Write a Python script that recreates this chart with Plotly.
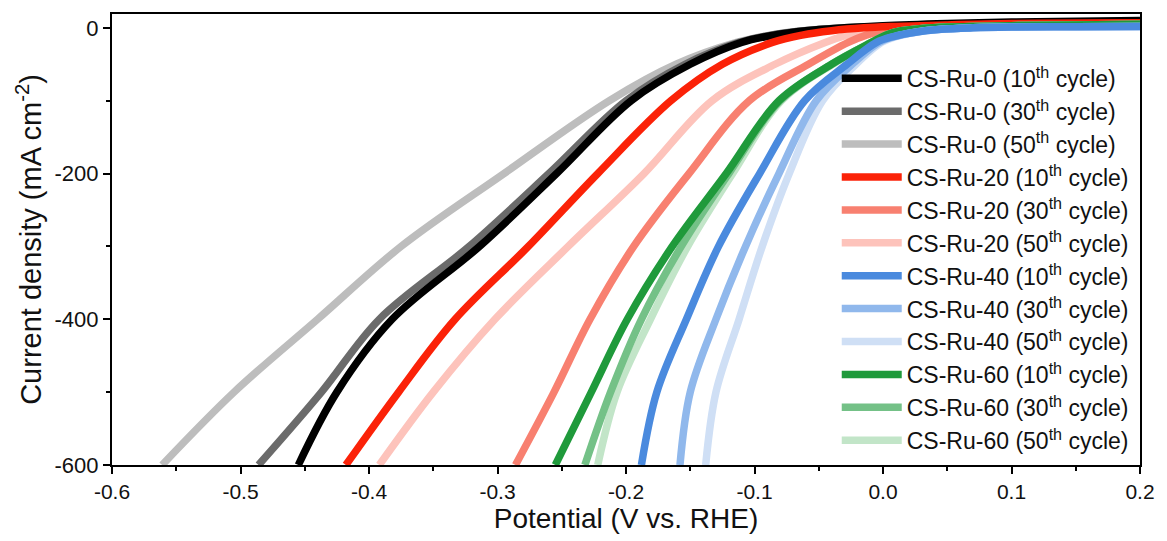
import plotly.graph_objects as go

# ---- data ----
names = [
    "CS-Ru-0 (10<sup>th</sup> cycle)", "CS-Ru-0 (30<sup>th</sup> cycle)", "CS-Ru-0 (50<sup>th</sup> cycle)",
    "CS-Ru-20 (10<sup>th</sup> cycle)", "CS-Ru-20 (30<sup>th</sup> cycle)", "CS-Ru-20 (50<sup>th</sup> cycle)",
    "CS-Ru-40 (10<sup>th</sup> cycle)", "CS-Ru-40 (30<sup>th</sup> cycle)", "CS-Ru-40 (50<sup>th</sup> cycle)",
    "CS-Ru-60 (10<sup>th</sup> cycle)", "CS-Ru-60 (30<sup>th</sup> cycle)", "CS-Ru-60 (50<sup>th</sup> cycle)",
]
colors = ["#000000", "#6b6b6b", "#bdbdbd",
          "#fb2208", "#f88070", "#fdc3bb",
          "#4a8ade", "#90b8ec", "#cfdff5",
          "#1f9a3b", "#74c187", "#c2e5c8"]

ru0_10_x = [-0.455, -0.425, -0.382, -0.314, -0.254, -0.196, -0.150, -0.110, -0.085, -0.060, -0.030, 0.0, 0.05, 0.1, 0.2]
ru0_10_y = [-600, -500, -400, -300, -200, -100, -50, -20, -10, -4, 0, 3, 6, 8, 10]
ru0_30_x = [-0.486, -0.437, -0.392, -0.322, -0.260, -0.200, -0.154, -0.112, -0.087, -0.061, -0.030, 0.0, 0.05, 0.1, 0.2]
ru0_30_y = [-600, -500, -400, -300, -200, -100, -50, -20, -10, -4, 0, 2, 5, 7, 9]
ru0_50_x = [-0.561, -0.505, -0.440, -0.375, -0.295, -0.213, -0.161, -0.114, -0.088, -0.062, -0.030, 0.0, 0.05, 0.1, 0.2]
ru0_50_y = [-600, -500, -400, -300, -200, -100, -50, -20, -10, -4, 0, 2, 4, 6, 8]

ru20_10_x = [-0.418, -0.377, -0.333, -0.276, -0.222, -0.165, -0.125, -0.086, -0.063, -0.040, -0.015, 0.01, 0.05, 0.1, 0.2]
ru20_10_y = [-600, -500, -400, -300, -200, -100, -50, -20, -10, -4, 0, 2, 4, 6, 7]
ru20_30_x = [-0.286, -0.256, -0.228, -0.194, -0.151, -0.104, -0.058, -0.027, -0.013, 0.000, 0.015, 0.03, 0.06, 0.1, 0.2]
ru20_30_y = [-600, -500, -400, -300, -200, -100, -50, -20, -10, -4, -1, 1, 3, 5, 6]
ru20_50_x = [-0.392, -0.350, -0.302, -0.245, -0.186, -0.133, -0.084, -0.045, -0.028, -0.012, 0.005, 0.02, 0.05, 0.1, 0.2]
ru20_50_y = [-600, -500, -400, -300, -200, -100, -50, -20, -10, -4, -1, 1, 3, 5, 6]

ru40_10_x = [-0.188, -0.176, -0.153, -0.128, -0.096, -0.061, -0.028, -0.005, 0.008, 0.025, 0.045, 0.07, 0.1, 0.15, 0.2]
ru40_10_y = [-600, -500, -400, -300, -200, -100, -50, -20, -12, -6, -2, 0, 1, 1.5, 2]
ru40_30_x = [-0.158, -0.150, -0.130, -0.107, -0.081, -0.052, -0.024, -0.003, 0.009, 0.025, 0.045, 0.07, 0.1, 0.15, 0.2]
ru40_30_y = [-600, -500, -400, -300, -200, -100, -50, -20, -12, -6, -2, 0, 1, 1.5, 2]
ru40_50_x = [-0.138, -0.130, -0.112, -0.094, -0.073, -0.047, -0.021, -0.001, 0.010, 0.026, 0.046, 0.07, 0.1, 0.15, 0.2]
ru40_50_y = [-600, -500, -400, -300, -200, -100, -50, -20, -12, -6, -2, 0, 1, 1.5, 2]

ru60_10_x = [-0.255, -0.227, -0.199, -0.164, -0.122, -0.081, -0.040, -0.009, 0.002, 0.014, 0.030, 0.05, 0.1, 0.15, 0.2]
ru60_10_y = [-600, -500, -400, -300, -200, -100, -50, -20, -10, -4, -1, 1, 3, 4, 5]
ru60_30_x = [-0.232, -0.212, -0.188, -0.157, -0.120, -0.080, -0.040, -0.009, 0.002, 0.014, 0.030, 0.05, 0.1, 0.15, 0.2]
ru60_30_y = [-600, -500, -400, -300, -200, -100, -50, -20, -10, -4, -1, 1, 3, 4, 5]
ru60_50_x = [-0.222, -0.207, -0.181, -0.152, -0.117, -0.079, -0.039, -0.008, 0.002, 0.014, 0.030, 0.05, 0.1, 0.15, 0.2]
ru60_50_y = [-600, -500, -400, -300, -200, -100, -50, -20, -10, -4, -1, 1, 3, 4, 5]

series_x = [ru0_10_x, ru0_30_x, ru0_50_x, ru20_10_x, ru20_30_x, ru20_50_x,
            ru40_10_x, ru40_30_x, ru40_50_x, ru60_10_x, ru60_30_x, ru60_50_x]
series_y = [ru0_10_y, ru0_30_y, ru0_50_y, ru20_10_y, ru20_30_y, ru20_50_y,
            ru40_10_y, ru40_30_y, ru40_50_y, ru60_10_y, ru60_30_y, ru60_50_y]

x_ticks = [-0.6, -0.5, -0.4, -0.3, -0.2, -0.1, 0.0, 0.1, 0.2]
x_tick_text = ["-0.6", "-0.5", "-0.4", "-0.3", "-0.2", "-0.1", "0.0", "0.1", "0.2"]
y_ticks = [0, -200, -400, -600]
y_tick_text = ["0", "-200", "-400", "-600"]

# drawing order: groups 0, 20, 60, 40; within group 50th, 30th, 10th
draw_order = [2, 1, 0, 5, 4, 3, 11, 10, 9, 8, 7, 6]

fig = go.Figure()
for i in draw_order:
    fig.add_trace(go.Scatter(
        x=series_x[i], y=series_y[i], mode="lines", name=names[i],
        line=dict(color=colors[i], width=7.5, shape="spline", smoothing=1.0),
        legendrank=i + 1, legendgroup=f"g{i}",
    ))

FONT = "Liberation Sans, Arial, sans-serif"
fig.update_layout(
    width=1167, height=541,
    margin=dict(l=112, r=15, t=14, b=76),
    paper_bgcolor="white", plot_bgcolor="white",
    font=dict(family=FONT, color="#111111"),
    showlegend=True,
    legend=dict(x=0.705, y=0.905, xanchor="left", yanchor="top",
                bgcolor="rgba(0,0,0,0)", borderwidth=0,
                font=dict(family=FONT, size=23, color="#111111"),
                tracegroupgap=0, itemwidth=60, traceorder="normal"),
)
fig.update_xaxes(
    range=[-0.6, 0.2], tickvals=x_ticks, ticktext=x_tick_text,
    ticks="outside", ticklen=7, tickwidth=2, tickcolor="black",
    minor=dict(dtick=0.05, ticks="outside", ticklen=4, tickwidth=2, tickcolor="black"),
    showline=True, linewidth=2, linecolor="black", mirror=True,
    showgrid=False, zeroline=False,
    tickfont=dict(family=FONT, size=21, color="#111111"),
    title=dict(text="Potential (V vs. RHE)", font=dict(family=FONT, size=28, color="#111111"), standoff=6),
)
fig.update_yaxes(
    range=[-600, 19], tickvals=y_ticks, ticktext=y_tick_text,
    ticks="outside", ticklen=7, tickwidth=2, tickcolor="black",
    minor=dict(dtick=100, ticks="outside", ticklen=4, tickwidth=2, tickcolor="black"),
    showline=True, linewidth=2, linecolor="black", mirror=True,
    showgrid=False, zeroline=False,
    tickfont=dict(family=FONT, size=22, color="#111111"),
    title=dict(text="Current density (mA cm<sup>-2</sup>)", font=dict(family=FONT, size=29, color="#111111"), standoff=4),
)

fig.write_html("out.html")
